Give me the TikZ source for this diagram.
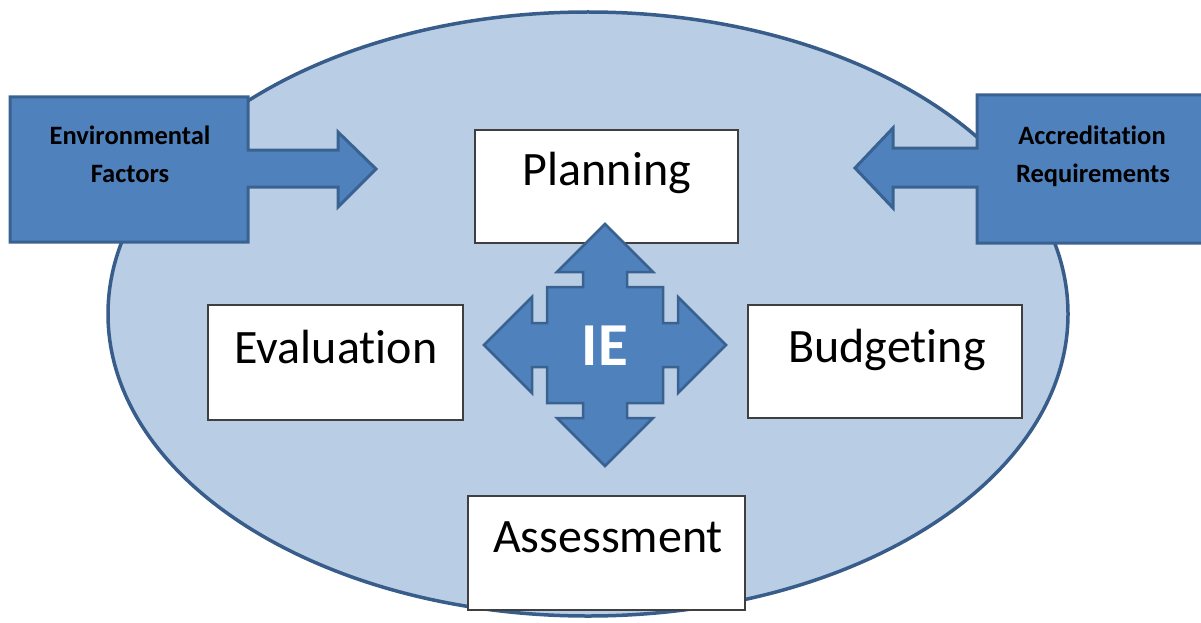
\documentclass[tikz,border=0pt]{standalone}
\usepackage{fontspec}
\setmainfont{Carlito}[RawFeature=-liga]
\definecolor{ellfill}{HTML}{B9CDE5}
\definecolor{ellline}{HTML}{385D8A}
\definecolor{darkfill}{HTML}{4F81BD}
\definecolor{darkline}{HTML}{3A6291}
\definecolor{boxline}{HTML}{3F3F3F}
\begin{document}
\begin{tikzpicture}[x=1pt,y=-1pt,
  ell/.style={fill=ellfill,draw=ellline,line width=3.5pt},
  callout/.style={fill=darkfill,draw=darkline,line width=3pt,line join=miter},
  whitebox/.style={fill=white,draw=boxline,line width=1.8pt,inner sep=0pt},
  boxtext/.style={font=\fontsize{48}{52}\selectfont,anchor=base,inner sep=0pt},
  callouttext/.style={font=\bfseries\fontsize{26.5}{30}\selectfont,anchor=base,inner sep=0pt},
  ietext/.style={font=\bfseries\fontsize{61}{64}\selectfont,text=white,anchor=base,inner sep=0pt},
  iearrow/.style={fill=darkfill,draw=darkline,line width=2.5pt,line join=miter}]
\useasboundingbox (0,0) rectangle (1201,623);
\clip (0,0) rectangle (1201,623);
% background ellipse
\draw[ell] (588,314) ellipse [x radius=480, y radius=302];
% left callout
\draw[callout] (10,97) -- (248,97) -- (248,150) -- (338,150) -- (338,132) -- (376,169)
  -- (338,207) -- (338,187) -- (248,187) -- (248,242) -- (10,242) -- cycle;
\node[callouttext] (env1) at (130,144) {Environmental};
\node[callouttext] (env2) at (130,182) {Factors};
% right callout
\draw[callout] (977,95) -- (1215,95) -- (1215,243) -- (977,243) -- (977,187) -- (893,187)
  -- (893,208) -- (855,168) -- (893,128) -- (893,148) -- (977,148) -- cycle;
\node[callouttext] (acc1) at (1092,144) {Accreditation};
\node[callouttext] (acc2) at (1093,182) {Requirements};
% boxes
\node[whitebox,minimum width=263pt,minimum height=113pt] (plan) at (606.5,186.5) {};
\node[boxtext] (planT) at (607,185) {Planning};
\node[whitebox,minimum width=255pt,minimum height=115pt] (eval) at (335.5,362.5) {};
\node[boxtext] (evalT) at (336,363) {Evaluation};
\node[whitebox,minimum width=274pt,minimum height=113pt] (budg) at (885,361.5) {};
\node[boxtext] (budgT) at (887,362) {Budgeting};
\node[whitebox,minimum width=277pt,minimum height=114pt] (asse) at (606.5,553) {};
\node[boxtext] (asseT) at (608,552) {Assessment};
% IE four-way arrow
\begin{scope}[shift={(605,345)}]
\draw[iearrow] (0,-121) -- (48,-73) -- (22,-73) -- (22,-58) -- (58,-58) -- (58,-22)
  -- (73,-22) -- (73,-48) -- (121,0) -- (73,48) -- (73,22) -- (58,22) -- (58,58)
  -- (22,58) -- (22,73) -- (48,73) -- (0,121) -- (-48,73) -- (-22,73) -- (-22,58)
  -- (-58,58) -- (-58,22) -- (-73,22) -- (-73,48) -- (-121,0) -- (-73,-48) -- (-73,-22)
  -- (-58,-22) -- (-58,-58) -- (-22,-58) -- (-22,-73) -- (-48,-73) -- cycle;
\end{scope}
\node[ietext] (ie) at (605,365) {IE};
\end{tikzpicture}
\end{document}
